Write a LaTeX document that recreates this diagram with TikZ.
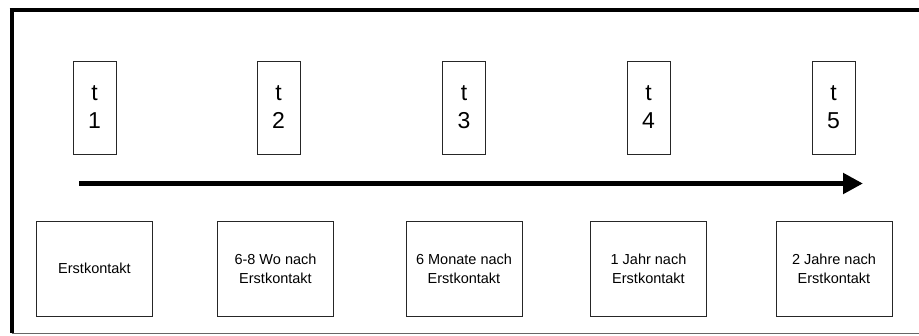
\documentclass[tikz,border=0pt]{standalone}
\usepackage{fontspec}
\setmainfont{Liberation Sans}
\usetikzlibrary{arrows.meta}
\begin{document}
\begin{tikzpicture}[x=1pt,y=-1pt,
  tbox/.style={draw=black!85,line width=1pt,minimum width=43pt,minimum height=93pt,inner sep=0pt,align=center,font=\fontsize{23}{28}\selectfont},
  bbox/.style={draw=black!85,line width=1pt,minimum width=116pt,minimum height=95pt,inner sep=0pt,align=center,font=\fontsize{14.5}{19}\selectfont}]
\useasboundingbox (0,0) rectangle (919,335);
\draw[line width=4pt] (11.5,8) -- (11.5,333);
\draw[line width=4pt] (9.5,10) -- (919,10);
\draw[line width=1pt,black!60] (11.5,333) -- (919,333);
\node[tbox] (t1) at (94.5,107.5) {t\\1};
\node[tbox] (t2) at (278.5,107.5) {t\\2};
\node[tbox] (t3) at (464,107.5) {t\\3};
\node[tbox] (t4) at (648.5,107.5) {t\\4};
\node[tbox] (t5) at (833.5,107.5) {t\\5};
\coordinate (as) at (79,183.5);
\coordinate (ae) at (863,183.5);
\draw[line width=5pt,-{Triangle[length=20pt,width=20pt]}] (as) -- (ae);
\node[bbox] (b1) at (94.5,268.5) {Erstkontakt};
\node[bbox] (b2) at (275.5,268.5) {6-8 Wo nach\\Erstkontakt};
\node[bbox] (b3) at (464,268.5) {6 Monate nach\\Erstkontakt};
\node[bbox] (b4) at (648.5,268.5) {1 Jahr nach\\Erstkontakt};
\node[bbox] (b5) at (834,268.5) {2 Jahre nach\\Erstkontakt};
\end{tikzpicture}
\end{document}
